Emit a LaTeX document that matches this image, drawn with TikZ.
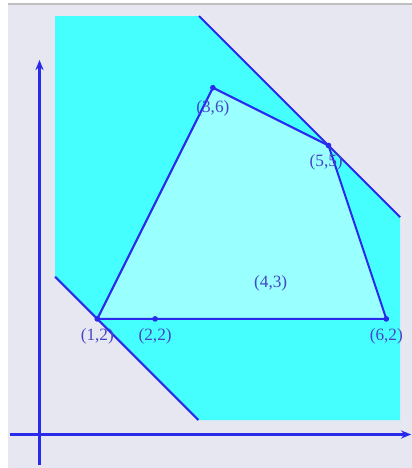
\documentclass[tikz,border=0pt]{standalone}
\usepackage{fontspec}
\setmainfont{Liberation Serif}
\usetikzlibrary{arrows.meta}
\definecolor{bgl}{HTML}{E7E7F2}
\definecolor{cyo}{HTML}{45FFFF}
\definecolor{cyi}{HTML}{99FFFF}
\definecolor{bl}{HTML}{2A2AEA}
\definecolor{tx}{HTML}{4646C6}
\tikzset{
  edge/.style={draw=bl, line width=1pt, line join=round},
  axis/.style={draw=bl, line width=1.1pt, -{Stealth[length=5pt,width=4pt]}},
  pt/.style={circle, fill=bl, inner sep=0pt, minimum size=2.8pt},
  lab/.style={text=tx, font=\fontsize{8.5}{10}\selectfont, inner sep=0pt}
}
\begin{document}
\begin{tikzpicture}
\useasboundingbox (-0.6834,-0.5796) rectangle (6.4446,7.5173);
\fill[white] (-0.6834,-0.5796) rectangle (6.4446,7.5173);
\fill[bgl] (-0.545,-0.5796) rectangle (6.4446,7.448);
\draw[gray!50, line width=0.6pt] (-0.545,7.448) -- (6.4446,7.448);
% outer feasible region
\fill[cyo] (0.27,7.24) -- (2.76,7.24) -- (6.24,3.76) -- (6.24,0.25) -- (2.75,0.25) -- (0.27,2.73) -- cycle;
\coordinate (t1) at (2.76,7.24);
\coordinate (t2) at (6.24,3.76);
\coordinate (b1) at (0.27,2.73);
\coordinate (b2) at (2.75,0.25);
\draw[edge] (t1) -- (t2);
\draw[edge] (b1) -- (b2);
% axes
\coordinate (xs) at (-0.51,0);
\coordinate (xe) at (6.43,0);
\coordinate (ys) at (0,-0.53);
\coordinate (ye) at (0,6.48);
\draw[axis] (xs) -- (xe);
\draw[axis] (ys) -- (ye);
% inner polygon
\coordinate (A) at (1,2);
\coordinate (B) at (3,6);
\coordinate (C) at (5,5);
\coordinate (D) at (6,2);
\coordinate (E) at (2,2);
\fill[cyi] (A) -- (B) -- (C) -- (D) -- cycle;
\draw[edge] (A) -- (B) -- (C) -- (D) -- cycle;
\node[pt] (pA) at (A) {};
\node[pt] (pB) at (B) {};
\node[pt] (pC) at (C) {};
\node[pt] (pD) at (D) {};
\node[pt] (pE) at (E) {};
% labels
\node[lab] (lA) at (1.0,1.69) {(1,2)};
\node[lab] (lE) at (2.0,1.69) {(2,2)};
\node[lab] (lD) at (6.0,1.69) {(6,2)};
\node[lab] (lB) at (3.0,5.65) {(3,6)};
\node[lab] (lC) at (4.96,4.70) {(5,5)};
\node[lab] (lF) at (4.0,2.62) {(4,3)};
\end{tikzpicture}
\end{document}
